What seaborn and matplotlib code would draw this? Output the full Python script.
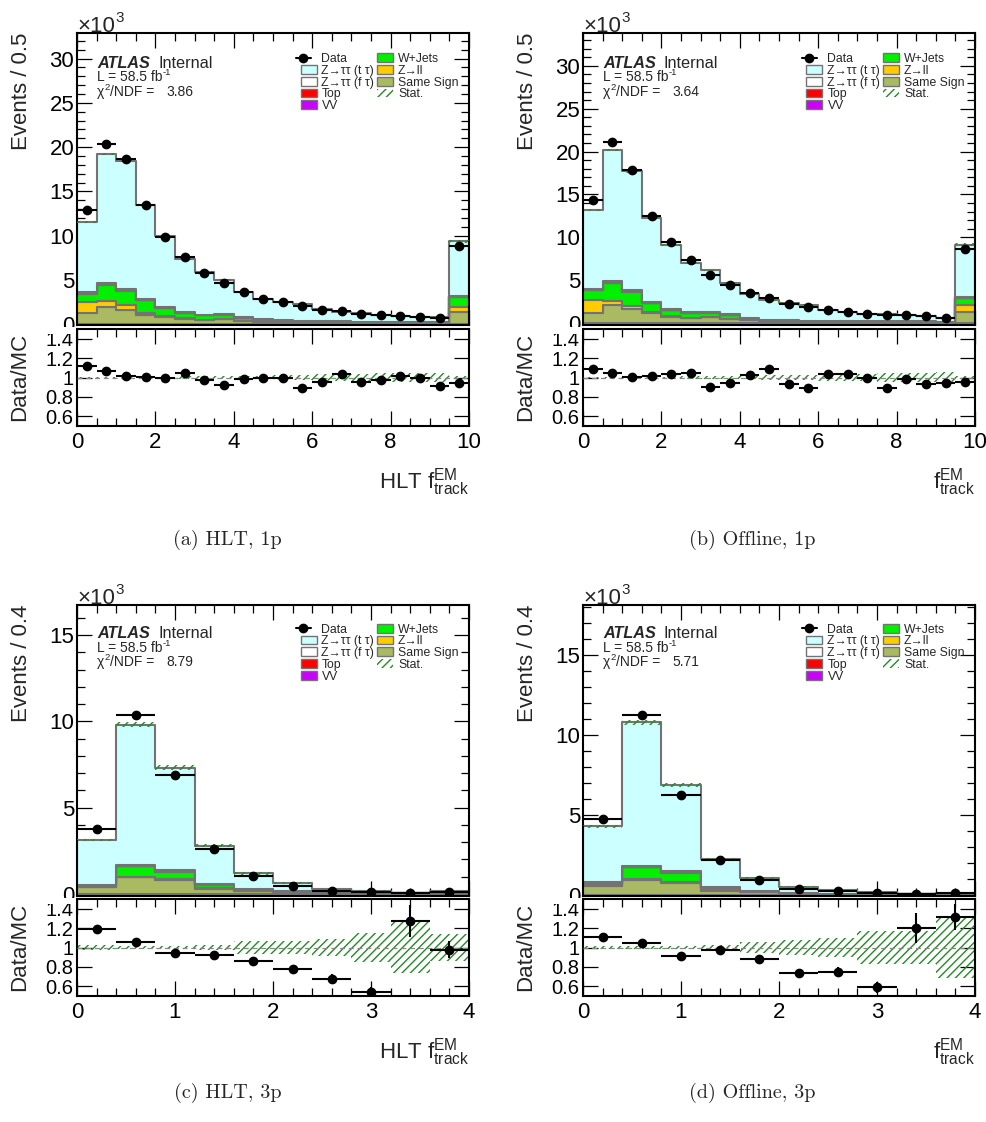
import numpy as np
import pandas as pd
import matplotlib
matplotlib.use("Agg")
import matplotlib.pyplot as plt
from matplotlib.patches import Rectangle
from matplotlib.lines import Line2D
from matplotlib.ticker import MultipleLocator, FixedLocator, FuncFormatter, NullLocator
import seaborn as sns

sns.set_theme(style="ticks")
plt.rcParams["font.family"] = ["Liberation Sans", "DejaVu Sans"]
plt.rcParams["mathtext.fontset"] = "custom"
plt.rcParams["mathtext.rm"] = "Liberation Sans"
plt.rcParams["mathtext.it"] = "Liberation Sans:italic"
plt.rcParams["mathtext.bf"] = "Liberation Sans:bold"
plt.rcParams["hatch.linewidth"] = 1.0

# ---------------------------------------------------------------- binning
edges_1p = [0.5 * k for k in range(21)]
edges_3p = [round(0.4 * k, 1) for k in range(11)]

# ------------------------------------------- yields, in 10^3 events / bin
# HLT f_track^EM, 1-prong
data_hlt_1p = [12.9, 20.4, 18.7, 13.5, 9.85, 7.64, 5.77, 4.68, 3.63, 2.88,
               2.47, 2.02, 1.61, 1.46, 1.20, 1.05, 0.94, 0.86, 0.71, 8.84]
ztt_t_hlt_1p = [7.95, 14.52, 14.40, 10.55, 7.93, 5.95, 4.82, 3.88, 2.88, 2.33,
                2.01, 1.87, 1.33, 1.09, 0.97, 0.81, 0.68, 0.62, 0.56, 6.17]
wjets_hlt_1p = [0.95, 1.85, 1.67, 1.43, 0.93, 0.57, 0.48, 0.45, 0.34, 0.20,
                0.15, 0.12, 0.10, 0.08, 0.07, 0.06, 0.05, 0.05, 0.04, 1.12]
zll_hlt_1p = [1.23, 0.60, 0.48, 0.27, 0.12, 0.06, 0.07, 0.05, 0.04, 0.03,
              0.03, 0.02, 0.02, 0.02, 0.02, 0.02, 0.02, 0.02, 0.02, 0.56]
ss_hlt_1p = [1.27, 2.00, 1.65, 1.00, 0.82, 0.64, 0.45, 0.60, 0.37, 0.28,
             0.25, 0.22, 0.20, 0.18, 0.16, 0.15, 0.14, 0.13, 0.12, 1.39]
stat_hlt_1p = [0.008, 0.007, 0.007, 0.008, 0.009, 0.011, 0.013, 0.015, 0.018, 0.020,
               0.024, 0.027, 0.032, 0.036, 0.040, 0.043, 0.046, 0.048, 0.050, 0.018]

# offline f_track^EM, 1-prong
data_off_1p = [14.36, 21.1, 17.8, 12.5, 9.42, 7.35, 5.56, 4.40, 3.46, 2.88,
               2.22, 1.90, 1.52, 1.32, 1.09, 0.97, 0.90, 0.78, 0.54, 8.68]
ztt_t_off_1p = [9.20, 15.34, 13.80, 9.82, 7.50, 5.79, 4.86, 3.67, 2.77, 2.27,
                2.08, 1.86, 1.21, 1.02, 0.86, 0.87, 0.70, 0.65, 0.40, 6.13]
wjets_off_1p = [1.17, 2.03, 1.66, 1.00, 0.66, 0.52, 0.49, 0.46, 0.17, 0.08,
                0.07, 0.06, 0.05, 0.05, 0.04, 0.04, 0.04, 0.03, 0.03, 0.78]
zll_off_1p = [1.48, 0.50, 0.40, 0.17, 0.10, 0.06, 0.05, 0.04, 0.03, 0.03,
              0.02, 0.02, 0.02, 0.02, 0.02, 0.02, 0.02, 0.02, 0.01, 0.78]
ss_off_1p = [1.20, 2.10, 1.60, 1.13, 0.74, 0.55, 0.66, 0.43, 0.35, 0.20,
             0.18, 0.16, 0.15, 0.14, 0.13, 0.12, 0.11, 0.10, 0.09, 1.32]
stat_off_1p = [0.008, 0.007, 0.007, 0.008, 0.009, 0.011, 0.012, 0.014, 0.017, 0.021,
               0.023, 0.026, 0.031, 0.035, 0.039, 0.042, 0.045, 0.047, 0.055, 0.017]

# small backgrounds shared by both 1-prong selections
ztt_f_1p = [0.08, 0.12, 0.11, 0.08, 0.06, 0.05, 0.04, 0.04, 0.03, 0.03,
            0.02, 0.02, 0.02, 0.02, 0.02, 0.02, 0.02, 0.02, 0.02, 0.07]
top_1p = [0.05, 0.08, 0.07, 0.05, 0.04, 0.03, 0.03, 0.02, 0.02, 0.02,
          0.01, 0.01, 0.01, 0.01, 0.01, 0.01, 0.01, 0.01, 0.01, 0.04]
vv_1p = [0.03, 0.04, 0.04, 0.03, 0.02, 0.02, 0.01, 0.01, 0.01, 0.01,
         0.01, 0.01, 0.01, 0.01, 0.01, 0.01, 0.01, 0.01, 0.01, 0.03]

# HLT f_track^EM, 3-prong
data_hlt_3p = [3.73, 10.35, 6.91, 2.57, 1.02, 0.48, 0.19, 0.10, 0.06, 0.13]
ztt_t_hlt_3p = [2.585, 8.13, 5.96, 2.255, 0.912, 0.455, 0.197, 0.135, 0.0275, 0.0845]
wjets_hlt_3p = [0.09, 0.60, 0.45, 0.19, 0.09, 0.04, 0.02, 0.01, 0.005, 0.01]
zll_hlt_3p = [0.03, 0.04, 0.04, 0.02, 0.01, 0.01, 0.005, 0.003, 0.001, 0.002]
ss_hlt_3p = [0.38, 0.95, 0.80, 0.30, 0.15, 0.10, 0.05, 0.03, 0.01, 0.03]
stat_hlt_3p = [0.022, 0.015, 0.020, 0.030, 0.065, 0.070, 0.085, 0.145, 0.265, 0.140]

# offline f_track^EM, 3-prong
data_off_3p = [4.75, 11.23, 6.25, 2.15, 0.90, 0.375, 0.21, 0.10, 0.06, 0.10]
ztt_t_off_3p = [3.495, 9.00, 5.40, 1.755, 0.802, 0.385, 0.207, 0.12, 0.0305, 0.0425]
wjets_off_3p = [0.16, 0.70, 0.60, 0.15, 0.04, 0.02, 0.01, 0.01, 0.005, 0.005]
zll_off_3p = [0.03, 0.06, 0.05, 0.02, 0.01, 0.01, 0.005, 0.003, 0.001, 0.002]
ss_off_3p = [0.55, 0.94, 0.73, 0.25, 0.15, 0.08, 0.05, 0.03, 0.01, 0.02]
stat_off_3p = [0.020, 0.015, 0.020, 0.030, 0.060, 0.080, 0.100, 0.170, 0.170, 0.310]

ztt_f_3p = [0.02, 0.05, 0.04, 0.02, 0.01, 0.01, 0.005, 0.005, 0.002, 0.005]
top_3p = [0.01, 0.02, 0.02, 0.01, 0.005, 0.003, 0.002, 0.001, 0.001, 0.001]
vv_3p = [0.005, 0.01, 0.01, 0.005, 0.003, 0.002, 0.001, 0.001, 0.0005, 0.0005]

chi2_ndf = ["3.86", "3.64", "8.79", "5.71"]
captions = ["(a) HLT, 1p", "(b) Offline, 1p", "(c) HLT, 3p", "(d) Offline, 3p"]
x_titles = [r"HLT $\mathrm{f}_{\mathrm{track}}^{\mathrm{EM}}$",
            r"$\mathrm{f}_{\mathrm{track}}^{\mathrm{EM}}$",
            r"HLT $\mathrm{f}_{\mathrm{track}}^{\mathrm{EM}}$",
            r"$\mathrm{f}_{\mathrm{track}}^{\mathrm{EM}}$"]
y_titles = ["Events / 0.5", "Events / 0.5", "Events / 0.4", "Events / 0.4"]

# stacking order: first entry ends on top of the stack
stack_order = ["Z→ττ (t τ)", "Z→ττ (f τ)", "VV", "Top", "W+Jets", "Z→ll", "Same Sign"]
palette = {"Z→ττ (t τ)": "#ccffff", "Z→ττ (f τ)": "#ffffff", "VV": "#cc00ff",
           "Top": "#ff0000", "W+Jets": "#00f000", "Z→ll": "#ffcc00",
           "Same Sign": "#a9ba62"}
EDGE = "#737373"
HATCH = "#258a25"

panels = [
    dict(edges=edges_1p, data=data_hlt_1p, stat=stat_hlt_1p,
         comps=[ztt_t_hlt_1p, ztt_f_1p, vv_1p, top_1p, wjets_hlt_1p, zll_hlt_1p, ss_hlt_1p],
         box=(77, 469, 33, 329, 426), ylim=(-0.14, 32.88), xmaj=2, xmin=0.5, row=0),
    dict(edges=edges_1p, data=data_off_1p, stat=stat_off_1p,
         comps=[ztt_t_off_1p, ztt_f_1p, vv_1p, top_1p, wjets_off_1p, zll_off_1p, ss_off_1p],
         box=(583, 975, 33, 329, 426), ylim=(-0.29, 33.84), xmaj=2, xmin=0.5, row=0),
    dict(edges=edges_3p, data=data_hlt_3p, stat=stat_hlt_3p,
         comps=[ztt_t_hlt_3p, ztt_f_3p, vv_3p, top_3p, wjets_hlt_3p, zll_hlt_3p, ss_hlt_3p],
         box=(77, 469, 605, 899, 996), ylim=(-0.10, 16.75), xmaj=1, xmin=0.2, row=1),
    dict(edges=edges_3p, data=data_off_3p, stat=stat_off_3p,
         comps=[ztt_t_off_3p, ztt_f_3p, vv_3p, top_3p, wjets_off_3p, zll_off_3p, ss_off_3p],
         box=(583, 975, 605, 899, 996), ylim=(-0.05, 18.10), xmaj=1, xmin=0.2, row=1),
]

W_PX, H_PX = 987, 1122
fig = plt.figure(figsize=(W_PX / 100, H_PX / 100), dpi=100)
fig.patch.set_facecolor("white")
renderer = fig.canvas.get_renderer()


def fx(px):
    return px / W_PX


def fy(py):
    return 1.0 - py / H_PX


def axes_px(left, right, top, bottom):
    return fig.add_axes([fx(left), fy(bottom), (right - left) / W_PX, (bottom - top) / H_PX])


def rich_text(x_px, y_px, segments, fs, **kw):
    """Write a line made of normal and superscript pieces, left to right."""
    x = x_px
    fs_px = fs * 100.0 / 72.0
    for s, sup in segments:
        if sup:
            t = fig.text(fx(x + 0.5), fy(y_px - 0.42 * fs_px), s, fontsize=fs * 0.68,
                         ha="left", va="baseline", **kw)
        else:
            t = fig.text(fx(x), fy(y_px), s, fontsize=fs, ha="left", va="baseline", **kw)
        x += t.get_window_extent(renderer).width + (0.5 if sup else 0.0)


def style_frame(ax, xmaj, xmin):
    for s in ax.spines.values():
        s.set_linewidth(1.5)
        s.set_color("black")
    ax.xaxis.set_major_locator(MultipleLocator(xmaj))
    ax.xaxis.set_minor_locator(MultipleLocator(xmin))
    ax.tick_params(which="both", direction="in", top=True, right=True,
                   color="black", labelcolor="black")
    ax.tick_params(which="major", length=10.5, width=0.9)
    ax.tick_params(which="minor", length=5.5, width=0.9)
    ax.grid(False)
    ax.set_facecolor("white")


def draw_legend(L, T):
    rows = [T + 24.7 + 11.75 * i for i in range(5)]
    fs = 8.8
    col1 = ["Data", "Z→ττ (t τ)", "Z→ττ (f τ)", "Top", "VV"]
    col2 = ["W+Jets", "Z→ll", "Same Sign", "Stat."]
    for name, yc in zip(col1, rows):
        if name == "Data":
            fig.add_artist(Line2D([fx(L + 219), fx(L + 234)], [fy(yc), fy(yc)],
                                  color="black", lw=1.5, transform=fig.transFigure))
            fig.add_artist(Line2D([fx(L + 226.5)], [fy(yc)], marker="o", ms=6,
                                  color="black", transform=fig.transFigure))
        else:
            fig.add_artist(Rectangle((fx(L + 223.5), fy(yc + 4.3)), 16 / W_PX, 8.6 / H_PX,
                                     facecolor=palette[name], edgecolor=EDGE, lw=1.0,
                                     transform=fig.transFigure))
        fig.text(fx(L + 244.5), fy(yc), name, fontsize=fs, va="center_baseline", ha="left")
    for name, yc in zip(col2, rows):
        if name == "Stat.":
            fig.add_artist(Rectangle((fx(L + 300), fy(yc + 4.3)), 16 / W_PX, 8.6 / H_PX,
                                     facecolor="none", edgecolor=HATCH, hatch="////", lw=0,
                                     transform=fig.transFigure))
        else:
            fig.add_artist(Rectangle((fx(L + 300), fy(yc + 4.3)), 16 / W_PX, 8.6 / H_PX,
                                     facecolor=palette[name], edgecolor=EDGE, lw=1.0,
                                     transform=fig.transFigure))
        fig.text(fx(L + 321), fy(yc), name, fontsize=fs, va="center_baseline", ha="left")


for i, p in enumerate(panels):
    L, R, T, S, B = p["box"]
    dy = -1.5 if p["row"] == 1 else 0.0
    ax = axes_px(L, R, T, S - 3.5)
    axr = axes_px(L, R, S, B)

    edges = np.asarray(p["edges"], dtype=float)
    centers = 0.5 * (edges[:-1] + edges[1:])
    widths = np.diff(edges)

    # stacked backgrounds through seaborn's weighted histogram
    frame = pd.concat(
        [pd.DataFrame({"x": centers, "w": vals, "process": name})
         for name, vals in zip(stack_order, p["comps"])],
        ignore_index=True)
    sns.histplot(data=frame, x="x", weights="w", hue="process", hue_order=stack_order,
                 palette=palette, multiple="stack", bins=list(p["edges"]), element="step",
                 fill=True, alpha=1.0, edgecolor=EDGE, linewidth=1.5, legend=False, ax=ax)

    total = np.sum([np.asarray(v, dtype=float) for v in p["comps"]], axis=0)
    data = np.asarray(p["data"], dtype=float)
    data_err = np.sqrt(data * 1000.0) / 1000.0
    rel = np.asarray(p["stat"], dtype=float)

    # statistical band and data in the main pad
    ax.bar(centers, 2 * rel * total, bottom=total * (1 - rel), width=widths,
           color="none", edgecolor=HATCH, hatch="////", linewidth=0, zorder=4)
    ax.errorbar(centers, data, xerr=widths / 2, yerr=data_err, fmt="o", color="black",
                ms=6, elinewidth=1.5, capsize=0, zorder=6)

    # ratio pad
    axr.bar(centers, 2 * rel, bottom=1 - rel, width=widths,
            color="none", edgecolor=HATCH, hatch="////", linewidth=0, zorder=2)
    axr.axhline(1.0, color="#888888", lw=0.9, ls=(0, (4, 3)), zorder=3)
    axr.errorbar(centers, data / total, xerr=widths / 2, yerr=data_err / total, fmt="o",
                 color="black", ms=6, elinewidth=1.5, capsize=0, zorder=6)

    # main pad axes
    style_frame(ax, p["xmaj"], p["xmin"])
    ax.set_xlim(edges[0], edges[-1])
    ax.set_ylim(*p["ylim"])
    ax.yaxis.set_major_locator(MultipleLocator(5))
    ax.yaxis.set_minor_locator(MultipleLocator(1))
    ax.tick_params(which="both", labelbottom=False)
    ax.tick_params(axis="y", labelsize=16, pad=2)
    ax.set_xlabel("")
    ax.set_ylabel(y_titles[i], fontsize=16, loc="top")
    ax.yaxis.set_label_coords(-0.116, 1.0)

    # ratio pad axes
    style_frame(axr, p["xmaj"], p["xmin"])
    axr.set_xlim(edges[0], edges[-1])
    axr.set_ylim(0.5, 1.5)
    axr.yaxis.set_major_locator(FixedLocator([0.6, 0.8, 1.0, 1.2, 1.4]))
    axr.yaxis.set_minor_locator(NullLocator())
    axr.yaxis.set_major_formatter(FuncFormatter(lambda v, _: f"{v:g}"))
    axr.xaxis.set_major_formatter(FuncFormatter(lambda v, _: f"{v:g}"))
    axr.tick_params(axis="y", labelsize=14.5, pad=2.5)
    axr.tick_params(axis="x", labelsize=16, pad=4)
    axr.set_ylabel("Data/MC", fontsize=16, loc="top")
    axr.yaxis.set_label_coords(-0.12, 0.965)

    # exponent of the main y axis
    rich_text(L, T - 1.5, [("×10", False), ("3", True)], 16)

    # hide the lower part of the main pad's "0" label, as under the ratio pad
    fig.add_artist(Rectangle((fx(L - 40), fy(S + 5)), 39 / W_PX, 6.5 / H_PX,
                             facecolor="white", edgecolor="none", zorder=20,
                             transform=fig.transFigure))

    # labels inside the main pad
    fig.text(fx(L + 20), fy(T + 34.7 + dy), "ATLAS", fontsize=11.7, fontweight="bold",
             fontstyle="italic", ha="left", va="baseline")
    fig.text(fx(L + 81), fy(T + 34.7 + dy), "Internal", fontsize=11.7, ha="left", va="baseline")
    rich_text(L + 20, T + 48.3 + dy, [("L = 58.5 fb", False), ("-1", True)], 10)
    rich_text(L + 20, T + 62.8 + dy, [("χ", False), ("2", True), ("/NDF =", False)], 10)
    fig.text(fx(L + 89), fy(T + 62.8 + dy), chi2_ndf[i], fontsize=10,
             ha="left", va="baseline")
    draw_legend(L, T + dy)

    # x title and caption
    fig.text(fx(R), fy(B + 62), x_titles[i], fontsize=16, ha="right", va="baseline")
    cap_x = 227.5 if L < 300 else 752
    cap_y = 540 if p["row"] == 0 else 1093
    fig.text(fx(cap_x), fy(cap_y), captions[i], fontsize=14.5, family="cmr10",
             ha="center", va="center")

fig.savefig("out.png", dpi=100, facecolor="white")
